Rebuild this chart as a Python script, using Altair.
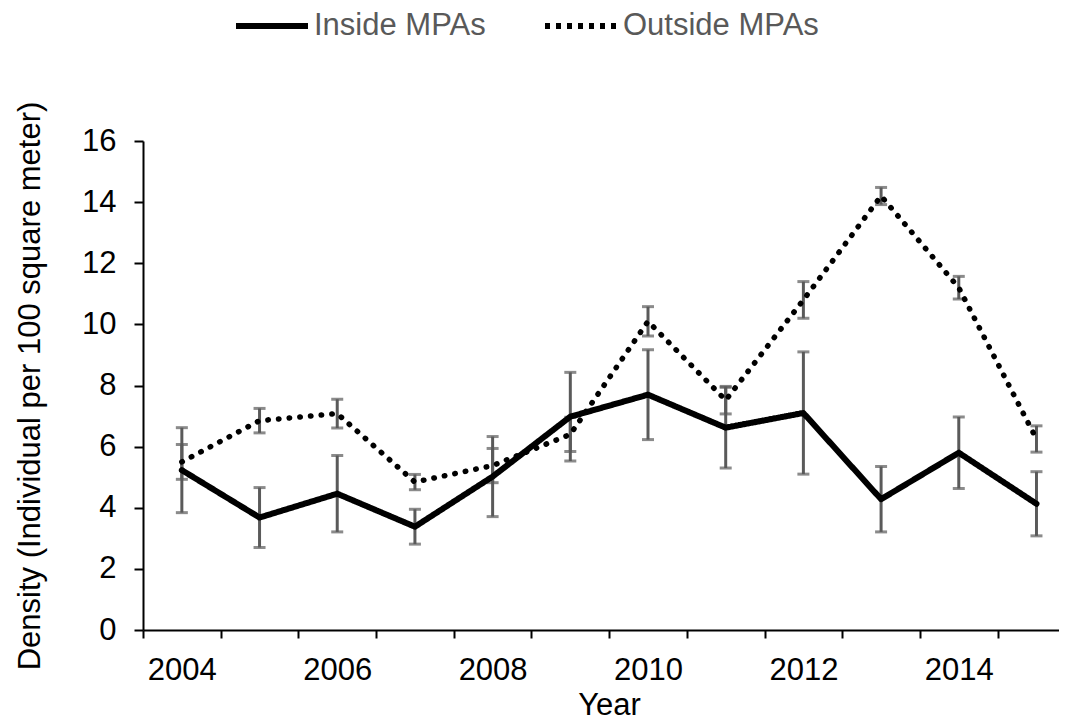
import altair as alt
import pandas as pd

# ---- data ----
years = list(range(2004, 2016))
series_names = ["Inside MPAs", "Outside MPAs"]
inside_mean = [5.23, 3.68, 4.46, 3.38, 5.02, 6.98, 7.70, 6.62, 7.10, 4.28, 5.80, 4.13]
inside_se = [1.39, 0.98, 1.25, 0.57, 1.31, 1.45, 1.47, 1.32, 2.00, 1.07, 1.17, 1.05]
outside_mean = [5.50, 6.85, 7.08, 4.84, 5.38, 6.40, 10.10, 7.52, 10.80, 14.20, 11.20, 6.25]
outside_se = [0.57, 0.40, 0.47, 0.25, 0.56, 0.56, 0.48, 0.45, 0.60, 0.28, 0.37, 0.43]
y_ticks = [0, 2, 4, 6, 8, 10, 12, 14, 16]
label_years = [2004, 2006, 2008, 2010, 2012, 2014]

rows = []
for name, means, ses in [(series_names[0], inside_mean, inside_se),
                         (series_names[1], outside_mean, outside_se)]:
    for yr, m, s in zip(years, means, ses):
        rows.append({"Year": yr, "Series": name, "Line": name, "Density": m,
                     "Low": round(m - s, 3), "High": round(m + s, 3)})
df = pd.DataFrame(rows)

boundaries = [y - 0.5 for y in years]
x_values = sorted(boundaries + label_years)

FONT = "Liberation Sans, Arial, sans-serif"

x_scale = alt.Scale(domain=[2003.5, 2015.29], nice=False, zero=False)
y_scale = alt.Scale(domain=[0, 16], nice=False)

x_axis = alt.Axis(
    title="Year", values=x_values,
    labelExpr="datum.value % 2 === 0 ? datum.value : ''",
    tickColor={"condition": {"test": "datum.value % 1 === 0", "value": "transparent"},
               "value": "black"},
    tickSize=8, tickWidth=2, labelPadding=17, titlePadding=5, titleX=466,
    labelOverlap=False, labelFlush=False, labelBound=False, grid=False,
)
y_axis = alt.Axis(
    title="Density (Individual per 100 square meter)", values=y_ticks,
    tickSize=9, tickWidth=2, labelPadding=18, titlePadding=35, grid=False,
    tickColor="black",
)

X = alt.X("Year:Q", scale=x_scale, axis=x_axis)

rules = alt.Chart(df).mark_rule(color="#5a5a5a", strokeWidth=3).encode(
    x=X,
    y=alt.Y("Low:Q", scale=y_scale, axis=y_axis),
    y2="High:Q",
)
cap_low = alt.Chart(df).mark_tick(color="#5a5a5a", orient="horizontal", size=12, thickness=3).encode(
    x=X, y=alt.Y("Low:Q", scale=y_scale, axis=y_axis),
)
cap_high = alt.Chart(df).mark_tick(color="#5a5a5a", orient="horizontal", size=12, thickness=3).encode(
    x=X, y=alt.Y("High:Q", scale=y_scale, axis=y_axis),
)
# drawn series: round-capped dashes give round dots for the outside series
lines = alt.Chart(df).mark_line(color="black", strokeJoin="round", strokeCap="round").encode(
    x=X,
    y=alt.Y("Density:Q", scale=y_scale, axis=y_axis),
    strokeDash=alt.StrokeDash(
        "Line:N",
        scale=alt.Scale(domain=series_names, range=[[1, 0], [0.5, 10.2]]),
        legend=None,
    ),
    strokeWidth=alt.StrokeWidth(
        "Line:N", scale=alt.Scale(domain=series_names, range=[6, 5.5]), legend=None
    ),
)

# legend carrier: no rows drawn, only its strokeDash legend is shown
legend_layer = alt.Chart(df).transform_filter("false").mark_line(color="black").encode(
    x=X,
    y=alt.Y("Density:Q", scale=y_scale, axis=y_axis),
    strokeDash=alt.StrokeDash(
        "Series:N",
        scale=alt.Scale(domain=series_names, range=[[1, 0], [5, 6]]),
        legend=alt.Legend(
            title=None, orient="none", legendX=90, legendY=-154, direction="horizontal",
            symbolType="stroke", symbolSize=5184, symbolStrokeWidth=6,
            symbolStrokeColor="black", labelFontSize=31, labelColor="#595959",
            labelFont=FONT, labelOffset=3, columnPadding=47, padding=0, labelLimit=0,
        ),
    ),
)

chart = alt.layer(rules, cap_low, cap_high, lines, legend_layer).resolve_scale(
    strokeDash="independent"
).properties(
    width=916, height=489,
    autosize=alt.AutoSizeParams(type="none"),
    padding={"left": 135, "top": 133, "right": 0, "bottom": 93},
    background="white",
).configure_view(stroke=None).configure_axis(
    labelFont=FONT, titleFont=FONT, labelFontSize=31, titleFontSize=31,
    labelColor="black", titleColor="black", titleFontWeight="normal",
    domainColor="black", domainWidth=2,
)

chart.save("out.html", embed_options={"renderer": "svg", "actions": False})
